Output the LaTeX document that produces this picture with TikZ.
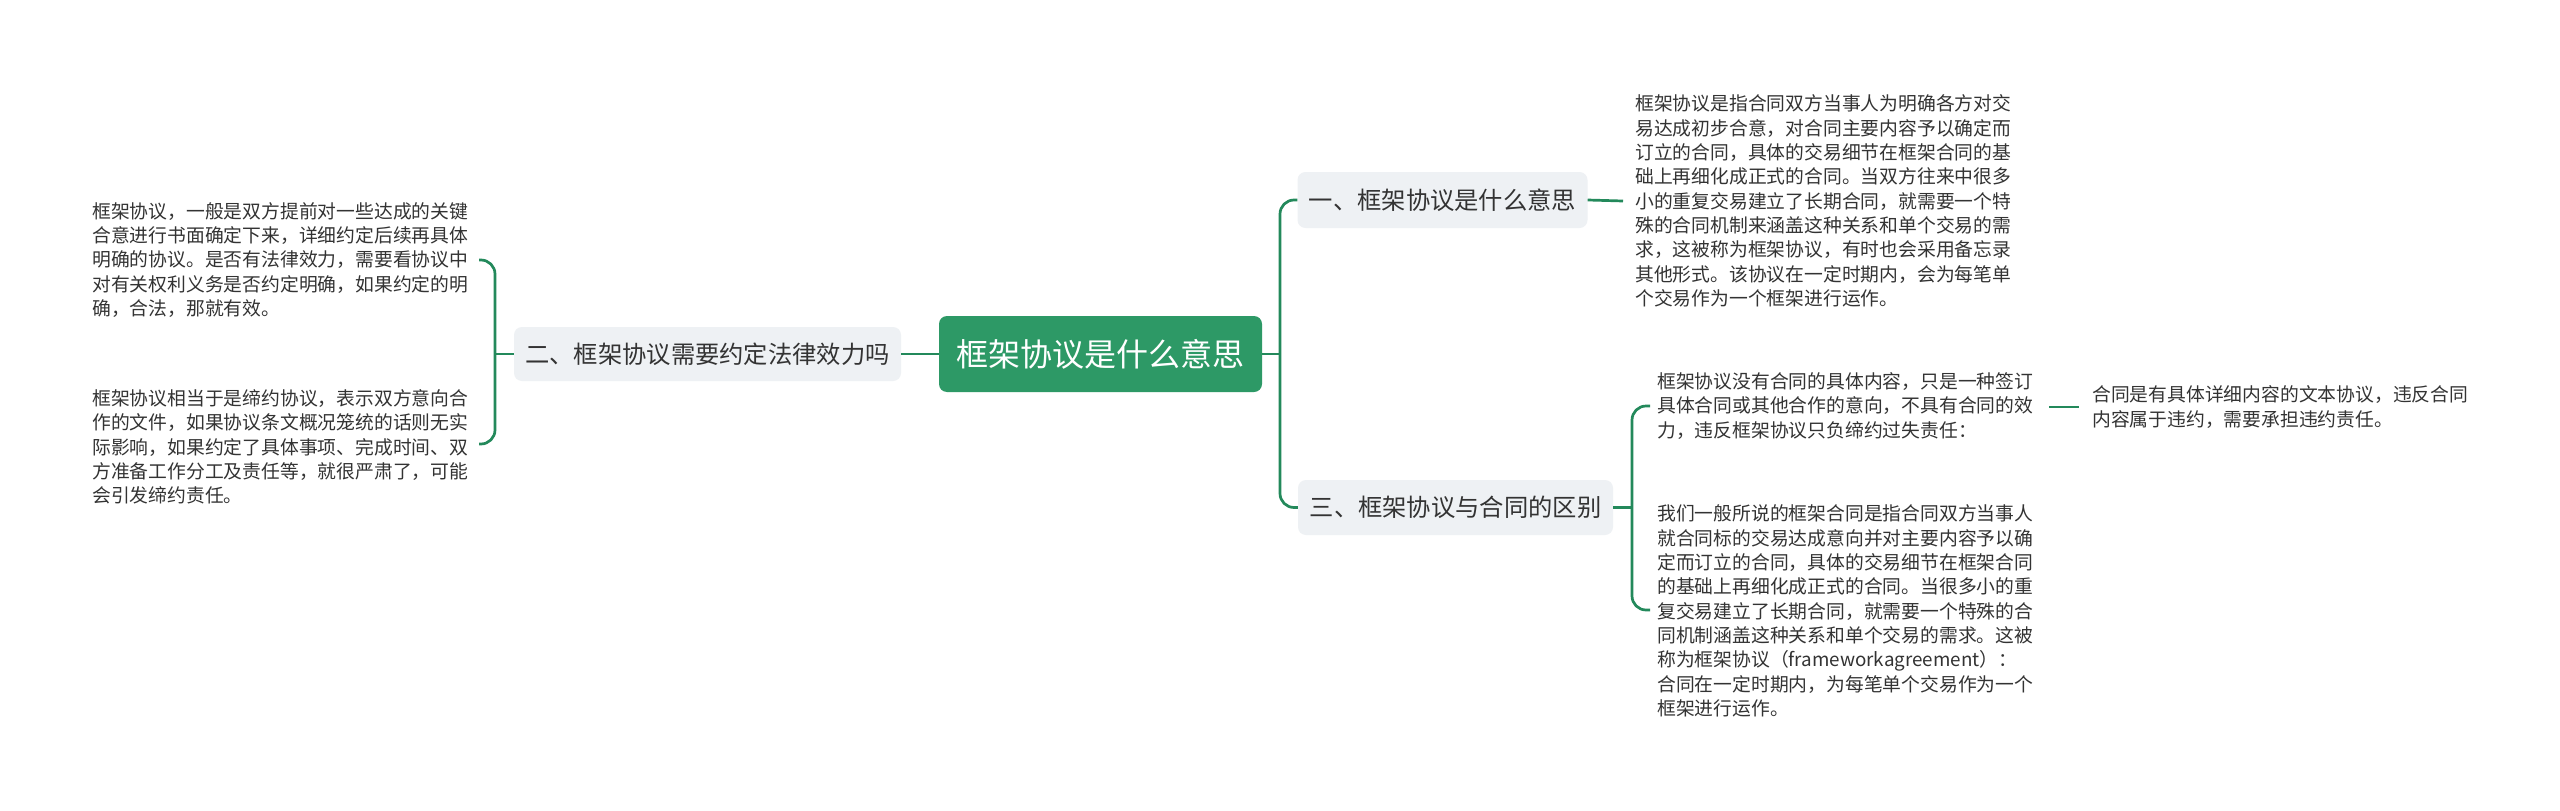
\documentclass[tikz,border=0pt]{standalone}
\usepackage{fontspec}
\setmainfont{Noto Sans CJK SC}
\definecolor{linegreen}{HTML}{23895B}
\definecolor{rootfill}{HTML}{2D9966}
\definecolor{branchfill}{HTML}{EEF1F4}
\definecolor{txt}{HTML}{333333}
\tikzset{
  rootbox/.style={rectangle, rounded corners=8pt, fill=rootfill, text=white, inner sep=0pt,
    font=\fontsize{32}{36}\selectfont},
  branchbox/.style={rectangle, rounded corners=8pt, fill=branchfill, text=txt, inner sep=0pt,
    font=\fontsize{24.3}{28}\selectfont},
  leaf/.style={anchor=west, align=left, inner sep=0pt, text=txt,
    font=\fontsize{18.8}{24.3}\selectfont},
  conn/.style={draw=linegreen, line width=2.7pt, rounded corners=14pt},
}
\begin{document}
\begin{tikzpicture}[x=1pt,y=-1pt]
\useasboundingbox (0,0) rectangle (2560,811);
\fill[white] (0,0) rectangle (2560,811);

% root
\node[rootbox, minimum width=323pt, minimum height=76pt] (root) at (1100.5,354) {框架协议是什么意思};

% branches
\node[branchbox, minimum width=387pt, minimum height=54pt] (b2) at (707.5,354) {二、框架协议需要约定法律效力吗};
\node[branchbox, minimum width=290pt, minimum height=56pt] (b1) at (1442.5,200) {一、框架协议是什么意思};
\node[branchbox, minimum width=315pt, minimum height=55pt] (b3) at (1455.5,507.5) {三、框架协议与合同的区别};

% left leaves
\node[leaf] (l1) at (92,260) {框架协议，一般是双方提前对一些达成的关键\\合意进行书面确定下来，详细约定后续再具体\\明确的协议。是否有法律效力，需要看协议中\\对有关权利义务是否约定明确，如果约定的明\\确，合法，那就有效。};
\node[leaf] (l2) at (92,447) {框架协议相当于是缔约协议，表示双方意向合\\作的文件，如果协议条文概况笼统的话则无实\\际影响，如果约定了具体事项、完成时间、双\\方准备工作分工及责任等，就很严肃了，可能\\会引发缔约责任。};

% right leaves
\node[leaf] (r1) at (1635,201) {框架协议是指合同双方当事人为明确各方对交\\易达成初步合意，对合同主要内容予以确定而\\订立的合同，具体的交易细节在框架合同的基\\础上再细化成正式的合同。当双方往来中很多\\小的重复交易建立了长期合同，就需要一个特\\殊的合同机制来涵盖这种关系和单个交易的需\\求，这被称为框架协议，有时也会采用备忘录\\其他形式。该协议在一定时期内，会为每笔单\\个交易作为一个框架进行运作。};
\node[leaf] (r3a) at (1657,406) {框架协议没有合同的具体内容，只是一种签订\\具体合同或其他合作的意向，不具有合同的效\\力，违反框架协议只负缔约过失责任：};
\node[leaf] (r3c) at (2092,407) {合同是有具体详细内容的文本协议，违反合同\\内容属于违约，需要承担违约责任。};
\node[leaf] (r3b) at (1657,611) {我们一般所说的框架合同是指合同双方当事人\\就合同标的交易达成意向并对主要内容予以确\\定而订立的合同，具体的交易细节在框架合同\\的基础上再细化成正式的合同。当很多小的重\\复交易建立了长期合同，就需要一个特殊的合\\同机制涵盖这种关系和单个交易的需求。这被\\称为框架协议（frameworkagreement）：\\合同在一定时期内，为每笔单个交易作为一个\\框架进行运作。};

% junction coordinates
\coordinate (jl) at (495,354);
\coordinate (jr) at (1280,354);
\coordinate (j3) at (1632,507.5);
\coordinate (hl1) at (479,260);
\coordinate (hl2) at (479,444);
\coordinate (h3a) at (1650,406);
\coordinate (h3b) at (1650,610);

% connectors
\draw[conn] (root.west) -- (b2.east);
\draw[conn] (b2.west) -- (jl);
\draw[conn] (hl1) -| (jl) |- (hl2);

\draw[conn] (root.east) -- (jr);
\draw[conn] (b1.west) -| (jr) |- (b3.west);

\draw[conn] (b1.east) -- ([xshift=-12pt]r1.west);
\draw[conn] (b3.east) -- (j3);
\draw[conn] (h3a) -| (j3) |- (h3b);
\draw[conn] ([xshift=16pt]r3a.east |- r3c.west) -- ([xshift=-13pt]r3c.west);
\end{tikzpicture}
\end{document}
